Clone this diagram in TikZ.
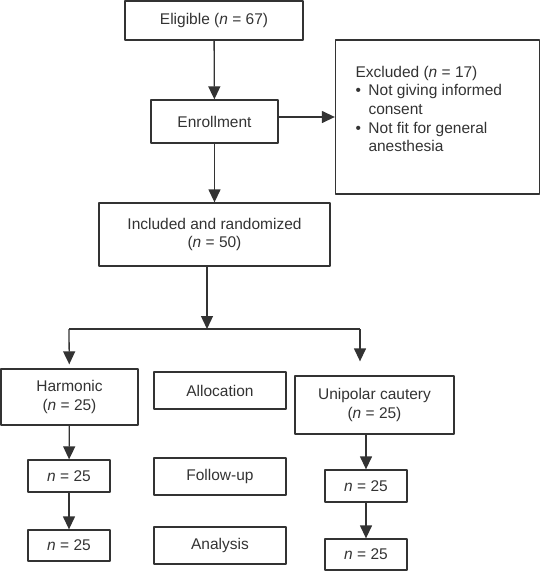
\documentclass[tikz,border=0pt]{standalone}
\usepackage{fontspec}
\setmainfont{Liberation Sans}
\usetikzlibrary{arrows.meta}
\definecolor{ink}{HTML}{333333}
\newcommand\bul{\makebox[13pt][l]{•}}
\begin{document}
\begin{tikzpicture}[x=1pt,y=-1pt,line join=round,
    box/.style={draw=ink,line width=1.3pt,inner sep=0pt,text=ink,align=center,
      font=\fontsize{15.5pt}{18.6pt}\selectfont},
    arr/.style={draw=ink,line width=1.3pt,-{Triangle[width=12pt,length=13pt]}}]
  \useasboundingbox (0,0) rectangle (540,571);
  \node[box,minimum width=178pt,minimum height=39pt] (elig) at (214,20.5) {Eligible (\textit{n} = 67)};
  \node[box,minimum width=127pt,minimum height=43pt] (enroll) at (214.5,121.5) {Enrollment};
  \node[box] (excl) at (437.5,117) {\parbox[c][154pt][t]{204pt}{\raggedright\leftskip=20pt
      \vspace*{26pt}Excluded (\textit{n} = 17)\\
      \bul Not giving informed\\
      \hspace*{13pt}consent\\
      \bul Not fit for general\\
      \hspace*{13pt}anesthesia}};
  \node[box,minimum width=231pt,minimum height=63pt] (incl) at (214.5,234.5) {Included and randomized\\(\textit{n} = 50)};
  \node[box,minimum width=137pt,minimum height=56pt] (harm) at (69.5,397) {Harmonic\\(\textit{n} = 25)};
  \node[box,minimum width=132pt,minimum height=37pt] (alloc) at (220,390.5) {Allocation};
  \node[box,minimum width=159pt,minimum height=58pt] (unip) at (374.5,405) {Unipolar cautery\\(\textit{n} = 25)};
  \node[box,minimum width=82pt,minimum height=32pt] (harmfu) at (69,476) {\textit{n} = 25};
  \node[box,minimum width=132pt,minimum height=37pt] (follow) at (220,476.5) {Follow-up};
  \node[box,minimum width=82pt,minimum height=32pt] (unipfu) at (366,486) {\textit{n} = 25};
  \node[box,minimum width=82pt,minimum height=31pt] (harman) at (69,545.5) {\textit{n} = 25};
  \node[box,minimum width=132pt,minimum height=37pt] (anal) at (220,545.5) {Analysis};
  \node[box,minimum width=82pt,minimum height=31pt] (unipan) at (366,554.5) {\textit{n} = 25};
  % split below randomization
  \coordinate (split) at (207,329);
  \coordinate (splitL) at (69,329);
  \coordinate (splitR) at (360,329);
  \draw[arr] (elig) -- (enroll);
  \draw[arr] (excl.west -| enroll.east) -- (excl.west);
  \draw[arr] (enroll) -- (incl);
  \draw[arr] (split |- incl.south) -- (split);
  \draw[draw=ink,line width=1.3pt] (splitL) -- (splitR);
  \draw[arr,shorten >=4pt] (splitL) -- (harm);
  \draw[arr,shorten >=14pt] (splitR) -- (splitR |- unip.north);
  \draw[arr] (harm) -- (harmfu);
  \draw[arr] (harmfu) -- (harman);
  \draw[arr] (unip.south -| unipfu) -- (unipfu);
  \draw[arr] (unipfu) -- (unipan);
\end{tikzpicture}
\end{document}
